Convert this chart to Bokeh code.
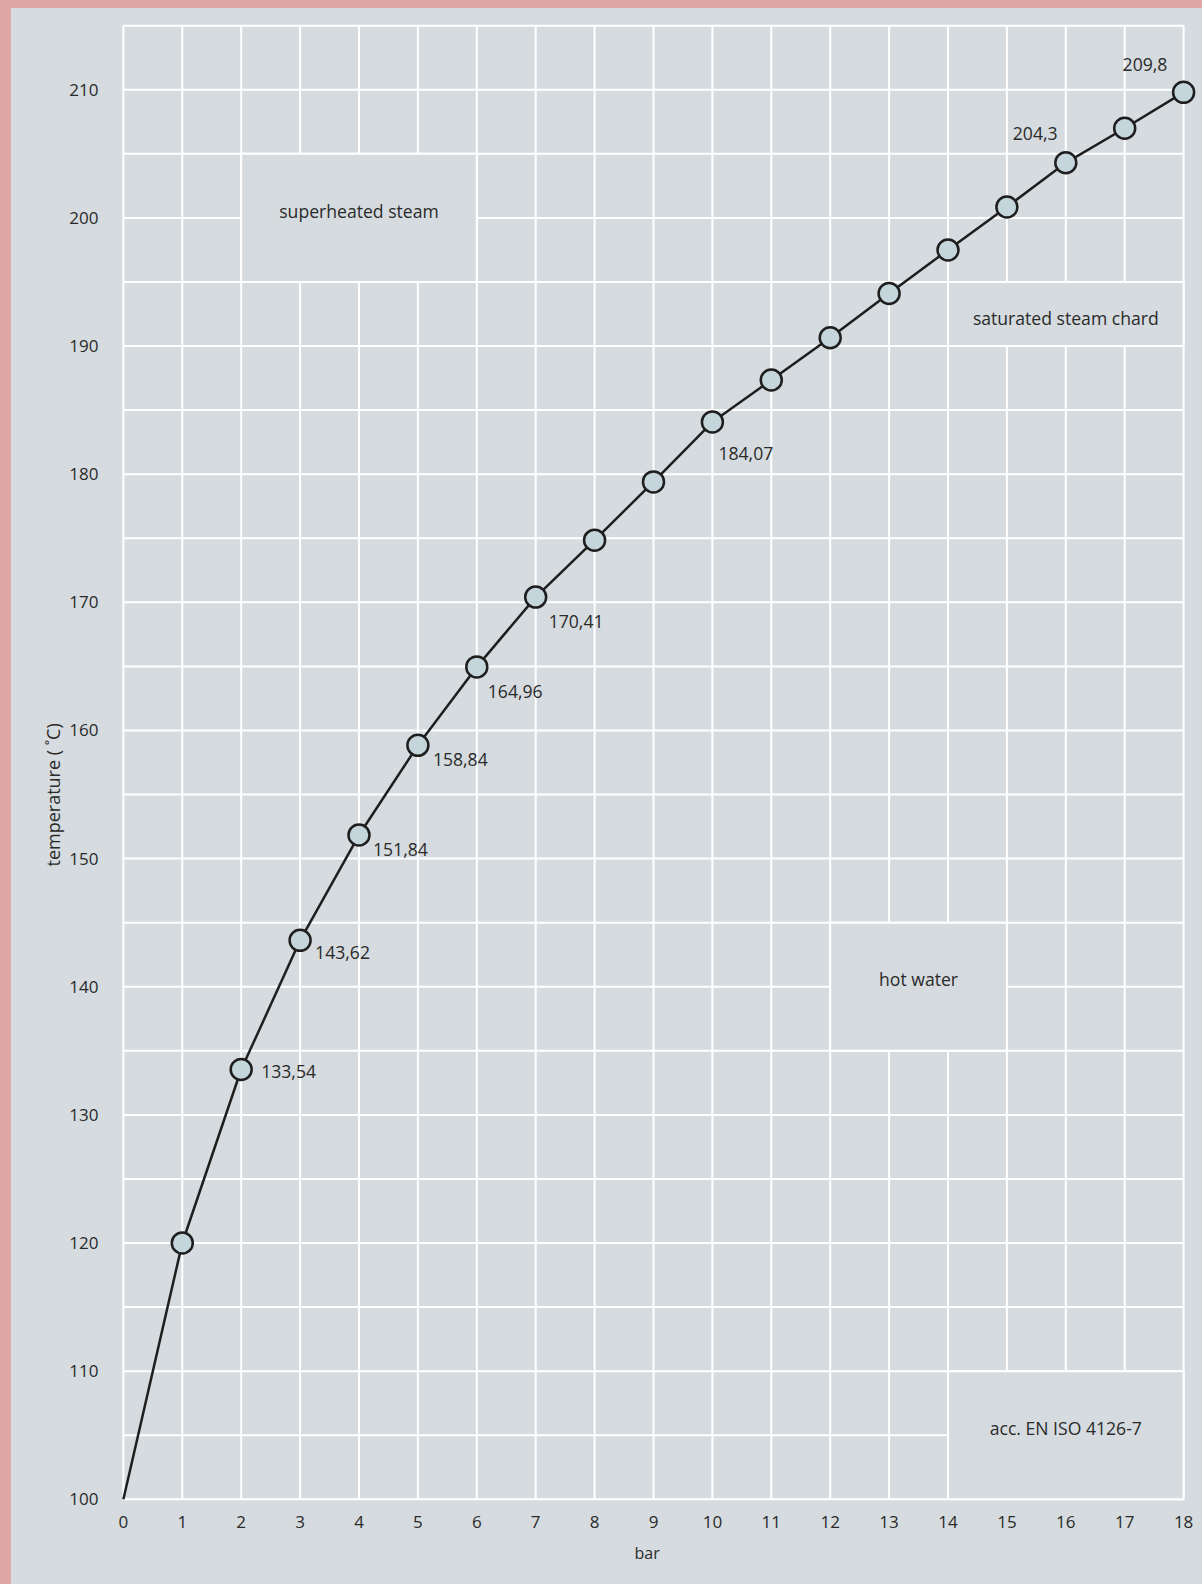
from bokeh.plotting import figure
from bokeh.models import FixedTicker, Range1d, Title
from bokeh.core.properties import value
from bokeh.embed import file_html
from bokeh.resources import INLINE

# ---- data ----
pressure_bar = list(range(19))
temperature_c = [100.0, 120.0, 133.54, 143.62, 151.84, 158.84, 164.96, 170.41,
                 174.85, 179.4, 184.07, 187.35, 190.65, 194.1, 197.5, 200.85,
                 204.3, 207.0, 209.8]
marker_bar = pressure_bar[1:]
marker_temp = temperature_c[1:]

label_bar = [2, 3, 4, 5, 6, 7, 10, 16, 18]
label_text = ["133,54", "143,62", "151,84", "158,84", "164,96", "170,41",
              "184,07", "204,3", "209,8"]
label_temp = [temperature_c[b] for b in label_bar]

x_ticks = list(range(0, 19))
y_ticks = list(range(100, 211, 10))
grid_x = list(range(0, 19))
grid_y = list(range(100, 216, 5))

region_text = ["superheated steam", "saturated steam chard", "hot water",
               "acc. EN ISO 4126-7"]
region_left = [2, 14, 12, 14]
region_right = [6, 18, 15, 18]
region_bottom = [195, 190, 135, 100]
region_top = [205, 195, 145, 110]
region_text_x = [4, 16, 13.5, 16]
region_text_y = [200.55, 192.2, 140.6, 105.55]

# ---- layout / style ----
label_dx = [20, 15, 14, 15, 11, 13, 6, -53, -61]
label_dy = [2, 12, 14, 14, 25, 24, 31, -29, -28]

PANEL = "#d5dbdf"
PINK = "#dfa8a6"
INK = "#2a2a2a"
FONT = "Open Sans"

p = figure(
    output_backend="svg", toolbar_location=None,
    x_range=Range1d(-0.1, 18.27), y_range=Range1d(99.75, 215.25),
    frame_width=1082, frame_height=1480,
    min_border_left=117, min_border_right=0, min_border_top=22,
    min_border_bottom=82,
)
p.border_fill_color = None
p.background_fill_color = None
p.outline_line_color = None
p.xgrid.visible = False
p.ygrid.visible = False

for ax in (p.xaxis[0], p.yaxis[0]):
    ax.axis_line_color = None
    ax.major_tick_line_color = None
    ax.minor_tick_line_color = None
    ax.major_label_text_font = FONT
    ax.major_label_text_font_size = "17px"
    ax.major_label_text_color = INK
p.xaxis.ticker = FixedTicker(ticks=x_ticks)
p.yaxis.ticker = FixedTicker(ticks=y_ticks)
p.xaxis.major_label_standoff = 7
p.yaxis.major_label_standoff = 13

p.add_layout(Title(text="temperature ( \u02daC)", align="left", offset=636,
                   text_font=FONT, text_font_size="18px", text_font_style="normal",
                   text_color=INK, standoff=4), "left")
p.add_layout(Title(text="bar", align="left", offset=517,
                   text_font=FONT, text_font_size="16px", text_font_style="normal",
                   text_color=INK, standoff=18), "below")

# grid
p.segment(x0=grid_x, y0=[grid_y[0]] * len(grid_x), x1=grid_x, y1=[grid_y[-1]] * len(grid_x),
          line_color="white", line_width=2)
p.segment(x0=[grid_x[0]] * len(grid_y), y0=grid_y, x1=[grid_x[-1]] * len(grid_y), y1=grid_y,
          line_color="white", line_width=2)

# region boxes
p.quad(left=region_left, right=region_right, bottom=region_bottom, top=region_top,
       fill_color=PANEL, line_color="white", line_width=2)
p.text(x=region_text_x, y=region_text_y,
       text=region_text, text_align="center", text_baseline="middle",
       text_font=value(FONT), text_font_size="17.6px", text_color=INK)

# curve
p.line(pressure_bar, temperature_c, line_color="#1e1e1e", line_width=2.5)
p.scatter(marker_bar, marker_temp, size=21, fill_color="#c5d5dc",
          line_color="#1e1e1e", line_width=2.5)

p.text(x=label_bar, y=label_temp, text=label_text, x_offset=label_dx, y_offset=label_dy,
       text_align="left", text_baseline="middle", text_font=value(FONT),
       text_font_size="17.6px", text_color=INK)

html = file_html(p, INLINE, title="saturated steam")
css = ("<style>html{background:linear-gradient(to right,%s 0,%s 11px,transparent 11px),"
       "linear-gradient(to bottom,%s 0,%s 8px,%s 8px);min-height:100%%;}"
       "body{background:transparent;}</style>" % (PINK, PINK, PINK, PINK, PANEL))
html = html.replace("</head>", css + "</head>")
open("out.html", "w").write(html)
